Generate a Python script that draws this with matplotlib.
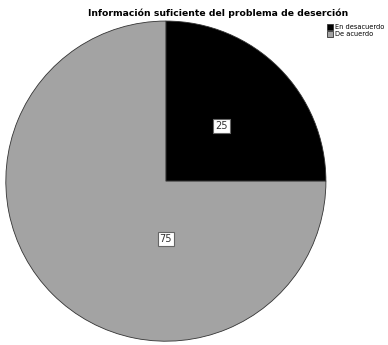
import numpy as np
import matplotlib.pyplot as plt
from matplotlib.patches import Patch

# ==========================================================
# Data
# ==========================================================

categories = ["En desacuerdo", "De acuerdo"]
values = [25, 75]
colors = ["#000000", "#a3a3a3"]

# label placement (angle in degrees, fraction of radius)
label_angles = [45, -90]
label_radii = [0.49, 0.36]

# ==========================================================
# Figure
# ==========================================================

fig = plt.figure(figsize=(3.88, 3.45), dpi=100)
fig.patch.set_facecolor("white")

ax = fig.add_axes([0.015, 0.011, 0.825, 0.928])

wedges, _ = ax.pie(
    values,
    colors=colors,
    startangle=90,
    counterclock=False,
    radius=1.0,
    wedgeprops=dict(edgecolor="#333333", linewidth=0.6),
)
ax.set_xlim(-1, 1)
ax.set_ylim(-1, 1)
ax.set_aspect("auto")

for val, ang, r in zip(values, label_angles, label_radii):
    a = np.deg2rad(ang)
    ax.text(
        r * np.cos(a), r * np.sin(a), str(val),
        ha="center", va="center", fontsize=7, color="#333333",
        bbox=dict(boxstyle="square,pad=0.2", facecolor="white",
                  edgecolor="#666666", linewidth=0.8),
    )

fig.text(0.562, 0.962, "Información suficiente del problema de deserción",
         ha="center", va="center", fontsize=6.7, fontweight="bold")

handles = [Patch(facecolor=c, edgecolor="#333333", linewidth=0.6) for c in colors]
fig.legend(
    handles, categories,
    loc="upper left", bbox_to_anchor=(0.835, 0.94),
    fontsize=4.8, frameon=False,
    handlelength=0.9, handleheight=0.9,
    handletextpad=0.2, borderpad=0.0, labelspacing=0.15,
)

fig.savefig("out.png", dpi=100, facecolor="white")
